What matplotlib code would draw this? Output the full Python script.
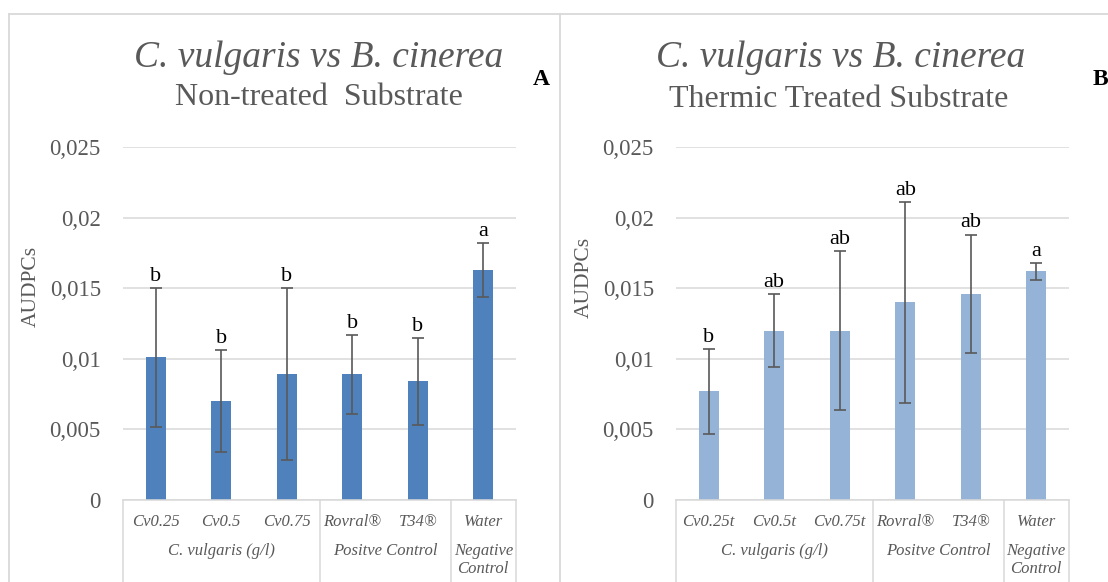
import matplotlib.pyplot as plt
from matplotlib.ticker import FuncFormatter
from matplotlib.lines import Line2D

plt.rcParams['font.family'] = 'Liberation Serif'

GREY = '#595959'
LIGHT = '#d9d9d9'

# AUDPC means, error bars and Tukey letters
labels_a = ['Cv0.25', 'Cv0.5', 'Cv0.75', 'Rovral®', 'T34®', 'Water']
means_a = [0.0101, 0.0070, 0.0089, 0.0089, 0.0084, 0.0163]
err_a = [0.0049, 0.0036, 0.0061, 0.0028, 0.0031, 0.0019]
letters_a = ['b', 'b', 'b', 'b', 'b', 'a']

labels_b = ['Cv0.25t', 'Cv0.5t', 'Cv0.75t', 'Rovral®', 'T34®', 'Water']
means_b = [0.0077, 0.0120, 0.0120, 0.0140, 0.0146, 0.0162]
err_b = [0.0030, 0.0026, 0.0056, 0.0071, 0.0042, 0.0006]
letters_b = ['b', 'ab', 'ab', 'ab', 'ab', 'a']

groups = ['C. vulgaris (g/l)', 'Positve Control', 'Negative\nControl']
group_spans = [(0, 2), (3, 4), (5, 5)]

W, H = 1108, 582
fig = plt.figure(figsize=(W / 100, H / 100), dpi=100)


def comma_fmt(v, pos):
    return f'{v:g}'.replace('.', ',')


def draw_panel(left_px, labels, means, errs, letters, color, ylab_y):
    ax = fig.add_axes([left_px / W, (H - 500) / H, 393 / W, 353 / H])
    x = range(len(labels))
    ax.bar(x, means, width=0.31, color=color, zorder=2)
    ax.errorbar(x, means, yerr=errs, fmt='none', ecolor=GREY, elinewidth=1.2,
                capsize=4, capthick=1.2, zorder=3)
    for i, (m, e, t) in enumerate(zip(means, errs, letters)):
        ax.annotate(t, (i, m + e), xytext=(0, 1.5), textcoords='offset points',
                    ha='center', va='bottom', fontsize=16, color='black')

    ax.set_xlim(-0.5, len(labels) - 0.5)
    ax.set_ylim(0, 0.025)
    ax.set_yticks([0, 0.005, 0.01, 0.015, 0.02, 0.025])
    ax.yaxis.set_major_formatter(FuncFormatter(comma_fmt))
    ax.yaxis.grid(True, color=LIGHT, lw=1.1)
    ax.set_axisbelow(True)
    for s in ['top', 'right', 'left']:
        ax.spines[s].set_visible(False)
    ax.spines['bottom'].set_color(LIGHT)
    ax.spines['bottom'].set_linewidth(1.1)
    ax.tick_params(axis='y', length=0, pad=16, labelsize=16.5, labelcolor=GREY)

    ax.set_xticks(list(x))
    ax.set_xticklabels(labels, fontstyle='italic', fontsize=12, color=GREY)
    ax.tick_params(axis='x', length=0, pad=10)

    ax.set_ylabel('AUDPCs', fontsize=15.5, color=GREY)
    ax.yaxis.set_label_coords(-0.208, ylab_y)

    # group labels and separators under the category axis
    trans = ax.get_xaxis_transform()
    for g, (a, b) in zip(groups, group_spans):
        ax.text((a + b) / 2, -0.122, g, transform=trans, ha='center', va='top',
                fontstyle='italic', fontsize=12, color=GREY, linespacing=1.2)
    for sx in [-0.5, 2.5, 4.5, 5.5]:
        ax.plot([sx, sx], [0, -0.235], transform=trans, color=LIGHT, lw=1.1,
                clip_on=False)
    return ax


draw_panel(123, labels_a, means_a, err_a, letters_a, '#4f81bd', 0.604)
draw_panel(676, labels_b, means_b, err_b, letters_b, '#95b3d7', 0.63)

# titles
fig.text(319 / W, 1 - 66.7 / H, 'C. vulgaris vs B. cinerea', ha='center',
         va='baseline', fontsize=27, fontstyle='italic', color=GREY)
fig.text(319 / W, 1 - 105 / H, 'Non-treated  Substrate', ha='center',
         va='baseline', fontsize=23, color=GREY)
fig.text(841 / W, 1 - 66.7 / H, 'C. vulgaris vs B. cinerea', ha='center',
         va='baseline', fontsize=27, fontstyle='italic', color=GREY)
fig.text(839 / W, 1 - 106.7 / H, 'Thermic Treated Substrate', ha='center',
         va='baseline', fontsize=23, color=GREY)
fig.text(533 / W, 1 - 85 / H, 'A', ha='left', va='baseline', fontsize=17,
         fontweight='bold', color='black')
fig.text(1093 / W, 1 - 85 / H, 'B', ha='left', va='baseline', fontsize=17,
         fontweight='bold', color='black')

# panel frames
top = 1 - 14 / H
fig.add_artist(Line2D([9 / W, 1], [top, top], transform=fig.transFigure,
                      color=LIGHT, lw=1.3))
for fx in [9, 559.5]:
    fig.add_artist(Line2D([fx / W, fx / W], [0, top], transform=fig.transFigure,
                          color=LIGHT, lw=1.3))

fig.savefig('out.png', dpi=100)
